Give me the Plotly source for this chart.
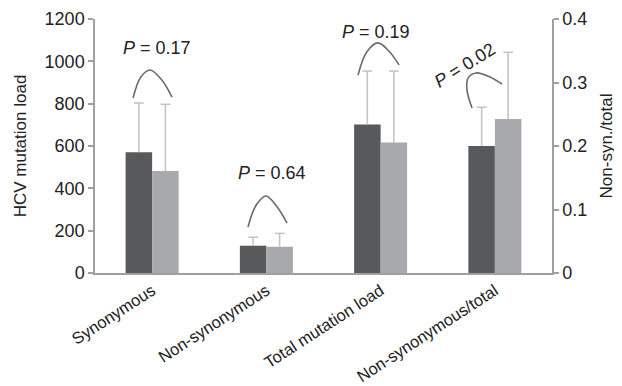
import plotly.graph_objects as go

# ---- data ----
categories = ["Synonymous", "Non-synonymous", "Total mutation load", "Non-synonymous/total"]
load_dark = [570, 129, 702]          # left axis, dark bars
load_dark_sd = [233, 40, 252]
load_light = [482, 124, 616]         # left axis, light bars
load_light_sd = [315, 63, 338]
ratio_dark = [0.200]                 # right axis, dark bar
ratio_dark_sd = [0.061]
ratio_light = [0.2425]               # right axis, light bar
ratio_light_sd = [0.105]
p_labels = ["0.17", "0.64", "0.19", "0.02"]

DARK = "#58595b"
LIGHT = "#a7a9ac"
ERR = "#c2c2c2"
AXC = "#a0a0a0"
TXT = "#222222"
FONT = "Liberation Sans, Arial, sans-serif"
BW = 0.232

fig = go.Figure()


def err(arr):
    return dict(type="data", array=arr, symmetric=False, arrayminus=[0] * len(arr),
                color=ERR, thickness=1.5, width=0)


def add_group(xs, vals, sds, offset, color, yax):
    fig.add_trace(go.Bar(x=xs, y=vals, width=BW, offset=offset, marker_color=color,
                         marker_line_width=0, error_y=err(sds), yaxis=yax, hoverinfo="skip"))
    # error-bar caps at the top end only
    cx = [x + offset + BW / 2 for x in xs]
    cy = [v + s for v, s in zip(vals, sds)]
    fig.add_trace(go.Scatter(x=cx, y=cy, mode="markers", yaxis=yax, hoverinfo="skip",
                             marker=dict(symbol="line-ew", size=7,
                                         line=dict(color=ERR, width=1.5))))


add_group([0, 1, 2], load_dark, load_dark_sd, -BW, DARK, "y")
add_group([0, 1, 2], load_light, load_light_sd, 0, LIGHT, "y")
add_group([3], ratio_dark, ratio_dark_sd, -BW, DARK, "y2")
add_group([3], ratio_light, ratio_light_sd, 0, LIGHT, "y2")

# ---- significance arcs (decoration) ----
arcs = [
    dict(x=[-0.167, -0.10, -0.019, 0.08, 0.174], y=[827, 925, 959, 915, 831], ax="y"),
    dict(x=[0.839, 0.91, 0.997, 1.09, 1.181], y=[217, 320, 364, 315, 236], ax="y"),
    dict(x=[1.802, 1.88, 1.977, 2.07, 2.161], y=[935, 1045, 1087, 1050, 983], ax="y"),
    dict(x=[2.800, 2.756, 2.765, 2.835, 2.957, 3.062],
         y=[0.2598, 0.288, 0.307, 0.315, 0.3087, 0.2976], ax="y2"),
]
for a in arcs:
    fig.add_trace(go.Scatter(x=a["x"], y=a["y"], mode="lines", yaxis=a["ax"],
                             line=dict(color="#6a6a6a", width=1.6, shape="spline", smoothing=1.0),
                             hoverinfo="skip"))

ann_pos = [
    dict(x=0.040, y=1063, yref="y", angle=0),
    dict(x=1.047, y=472, yref="y", angle=0),
    dict(x=1.960, y=1139, yref="y", angle=0),
    dict(x=2.739, y=0.3276, yref="y2", angle=-32),
]
for lab, p in zip(p_labels, ann_pos):
    fig.add_annotation(x=p["x"], y=p["y"], xref="x", yref=p["yref"], text=f"<i>P</i> = {lab}",
                       showarrow=False, textangle=p["angle"],
                       font=dict(family=FONT, size=18, color=TXT))

axis_common = dict(showline=True, linecolor=AXC, linewidth=1.5, ticks="outside", ticklen=5,
                   tickcolor=AXC, tickwidth=1.5, showgrid=False, zeroline=False,
                   automargin=False,
                   tickfont=dict(family=FONT, size=18, color=TXT))

# the page body has an 8px margin, so the figure is sized to fit the window
fig.update_layout(
    width=614, height=378,
    margin=dict(l=87, r=70, t=11, b=113),
    paper_bgcolor="white", plot_bgcolor="white",
    showlegend=False, barmode="overlay",
    font=dict(family=FONT, color=TXT),
    xaxis=dict(range=[-0.5, 3.5], tickvals=[0, 1, 2, 3], ticktext=categories, tickangle=-33,
               showline=True, linecolor=AXC, linewidth=1.5, ticks="", showgrid=False,
               zeroline=False, automargin=False,
               tickfont=dict(family=FONT, size=16.5, color=TXT)),
    yaxis=dict(range=[0, 1200], dtick=200,
               title=dict(text="HCV mutation load", font=dict(family=FONT, size=17, color=TXT),
                          standoff=14),
               **axis_common),
    yaxis2=dict(range=[0, 0.4], dtick=0.1, overlaying="y", side="right",
                title=dict(text="Non-syn./total", font=dict(family=FONT, size=17, color=TXT),
                           standoff=14),
                **axis_common),
)

fig.write_html("out.html")
